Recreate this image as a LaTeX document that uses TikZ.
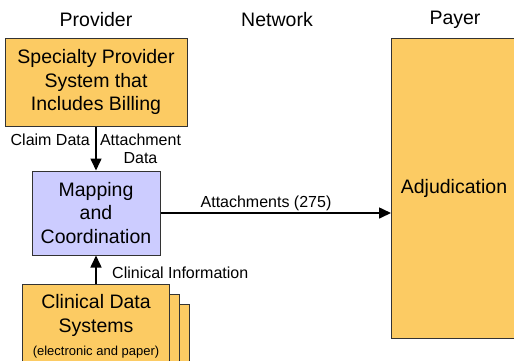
\documentclass[tikz,border=0pt]{standalone}
\usepackage{fontspec}
\setmainfont{Liberation Sans}
\usetikzlibrary{arrows.meta,positioning}
\definecolor{boxorange}{RGB}{252,203,99}
\definecolor{boxblue}{RGB}{204,204,255}
\definecolor{boxline}{RGB}{51,51,51}
\newcommand{\boxfont}{\fontsize{19.5}{23.5}\selectfont}
\newcommand{\lblfont}{\fontsize{16}{18}\selectfont}
\newcommand{\smallfont}{\fontsize{13}{15}\selectfont}

\begin{document}
\begin{tikzpicture}[x=1pt,y=-1pt,
	sysbox/.style= {shape=rectangle,
		draw=boxline, line width=1pt,
		fill=boxorange,
		align=center, inner sep=0,
		font=\boxfont,
	},
	mapbox/.style={sysbox,fill=boxblue},
	flow/.style={line width=1.6pt,-{Triangle[length=12pt,width=11pt]}},
	lbl/.style={font=\lblfont,inner sep=0,align=center},
	hdr/.style={font=\boxfont,inner sep=0}]
	
	\useasboundingbox (0,0) rectangle (514,360);
	
	% column heads
	\node[hdr] (provider) at (96,20) {Provider};
	\node[hdr] (network) at (277,20) {Network};
	\node[hdr] (payer) at (455,20) {Payer};
	
	\node[sysbox,minimum width=182pt,minimum height=88pt] (spec) at (96,82)
		{Specialty Provider\\System that\\Includes Billing};
	\node[mapbox,minimum width=128pt,minimum height=84pt] (map) at (96,213)
		{Mapping\\and\\Coordination};
	\node[sysbox,minimum width=125pt,minimum height=300pt,anchor=north west] (adj) at (391,38)
		{Adjudication};
	
	% stack of clinical systems
	\foreach \k in {2,1}{%
		\node[sysbox,minimum width=147pt,minimum height=84pt,anchor=north] (cds\k) at ({96+10*\k},{284+10*\k}) {};}
	\node[sysbox,minimum width=147pt,minimum height=84pt,anchor=north] (cds) at (96,284)
		{Clinical Data\\Systems\\{\smallfont(electronic and paper)}};
	
	\draw[flow] (spec) -- (map);
	\draw[flow] (cds) -- (map);
	\draw[flow] (map.east) -- (map.east -| adj.west);
	
	\node[lbl,anchor=east] (claim) at (90,140) {Claim Data};
	\node[lbl] (attdata) at (140.5,149) {Attachment\\Data};
	\node[lbl,anchor=west] (clininfo) at (112,273) {Clinical Information};
	\node[lbl] (att275) at (266,203) {Attachments (275)};
\end{tikzpicture}
\end{document}
